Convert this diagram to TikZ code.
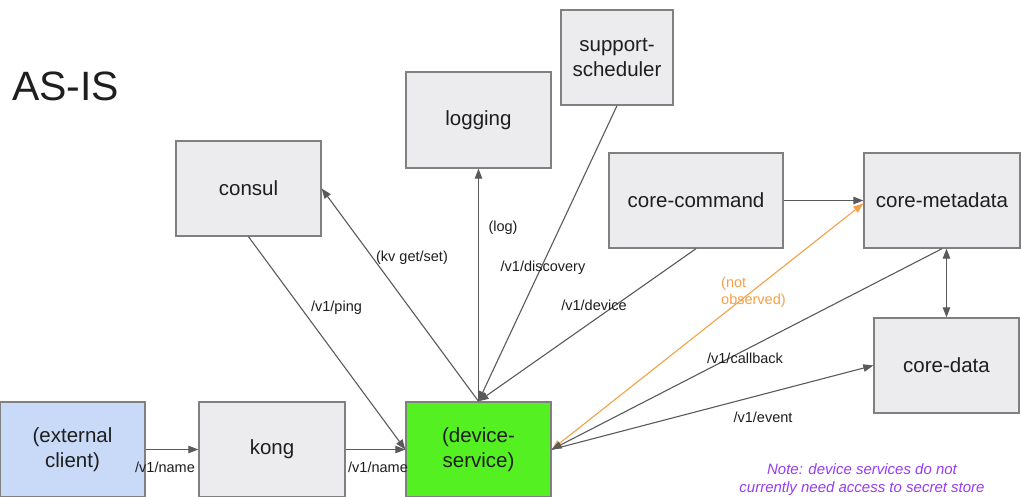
\documentclass[tikz,border=0pt]{standalone}
\usepackage{fontspec}
\setmainfont{Liberation Sans}
\usetikzlibrary{arrows.meta,calc}
\definecolor{boxfill}{RGB}{236,236,239}
\definecolor{boxline}{RGB}{128,128,128}
\definecolor{arrowc}{RGB}{90,90,90}
\definecolor{devgreen}{RGB}{84,240,34}
\definecolor{extblue}{RGB}{201,218,248}
\definecolor{orangec}{RGB}{246,160,70}
\definecolor{notec}{RGB}{150,60,250}
\definecolor{txt}{RGB}{30,30,30}
\tikzset{
  box/.style={draw=boxline, line width=1.4pt, fill=boxfill, inner sep=0pt,
    text=txt, font=\fontsize{20.5}{25.5}\selectfont, align=center},
  conn/.style={draw=arrowc, line width=1.1pt, -{Triangle[length=10pt,width=7.5pt]}},
  both/.style={{Triangle[length=10pt,width=7.5pt]}-{Triangle[length=10pt,width=7.5pt]}},
  lbl/.style={font=\fontsize{14.5}{17}\selectfont, text=txt, inner sep=0pt}
}
\begin{document}
\begin{tikzpicture}[x=1pt,y=-1pt]
\useasboundingbox[fill=white] (0,0) rectangle (1021,497);
\node[font=\fontsize{41}{45}\selectfont, text=txt, anchor=base west, inner sep=0pt] (title) at (12,101) {AS-IS};

\node[box, minimum width=145pt, minimum height=95pt] (consul) at (248.5,188.5) {consul};
\node[box, minimum width=145pt, minimum height=96pt] (logging) at (478.5,120) {logging};
\node[box, minimum width=112pt, minimum height=95pt] (sched) at (617,57.5) {support-\\scheduler};
\node[box, minimum width=174pt, minimum height=95pt] (command) at (696,200.5) {core-command};
\node[box, minimum width=156pt, minimum height=95pt] (meta) at (942,200.5) {core-metadata};
\node[box, minimum width=145pt, minimum height=95pt] (data) at (946.5,365.5) {core-data};
\node[box, fill=extblue, minimum width=145pt, minimum height=95pt] (ext) at (72.5,449.5) {(external\\client)};
\node[box, minimum width=146pt, minimum height=95pt] (kong) at (272,449.5) {kong};
\node[box, fill=devgreen, minimum width=145pt, minimum height=95pt] (device) at (478.5,449.5) {(device-\\service)};

\draw[conn] (ext.east) -- (kong.west);
\draw[conn] (kong.east) -- (device.west);
\draw[conn] (consul.south) -- (device.west);
\draw[conn] (device.north) -- (consul.east);
\draw[conn] (device.north) -- (logging.south);
\draw[conn] (sched.south) -- (device.north);
\draw[conn] (command.south) -- (device.north);
\draw[conn] (command.east) -- (meta.west);
\draw[conn, draw=orangec, both] (device.east) -- ($(meta.west)+(0,3)$);
\draw[conn] (meta.south) -- (device.east);
\draw[conn] (device.east) -- (data.west);
\draw[conn, both] (data.north) -- (data.north |- meta.south);

\node[lbl] (l1) at (165,467) {/v1/name};
\node[lbl] (l2) at (378,467) {/v1/name};
\node[lbl] (l3) at (336.5,308) {/v1/ping};
\node[lbl] (l4) at (412,258) {(kv get/set)};
\node[lbl] (l5) at (503,228) {(log)};
\node[lbl] (l6) at (543,268) {/v1/discovery};
\node[lbl] (l7) at (594,305) {/v1/device};
\node[lbl, text=orangec, align=left, anchor=west] (l8) at (721,292) {(not\\observed)};
\node[lbl] (l9) at (745,358) {/v1/callback};
\node[lbl] (l10) at (763,417) {/v1/event};
\node[font=\fontsize{15}{17.5}\selectfont\itshape, text=notec, align=center, inner sep=0pt] (note) at (862,479.5) {Note: device services do not\\currently need access to secret store};
\end{tikzpicture}
\end{document}
